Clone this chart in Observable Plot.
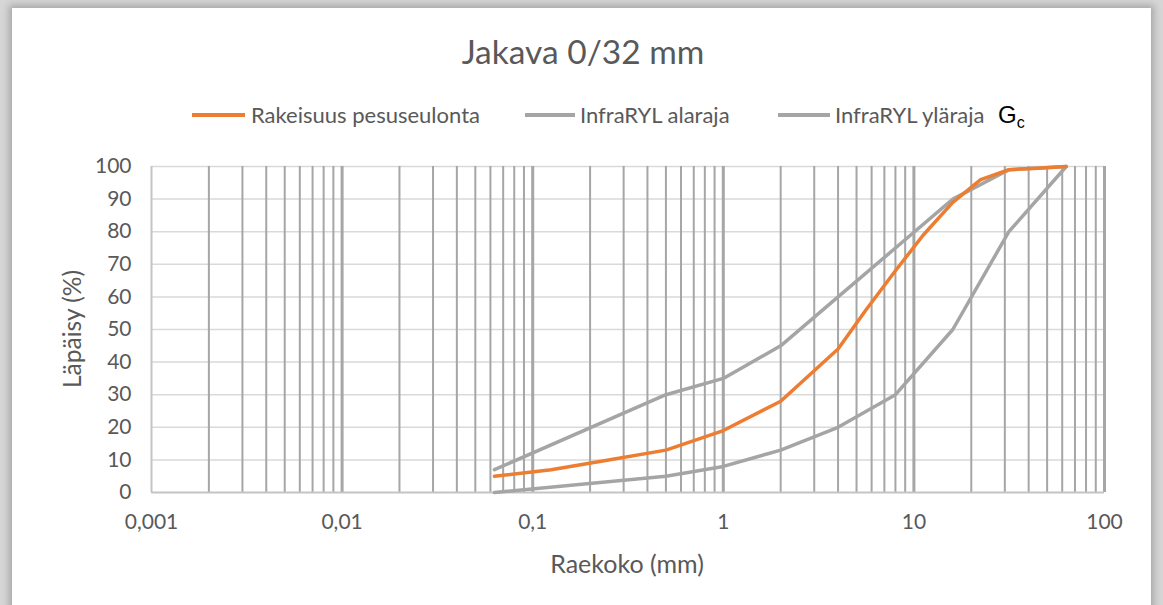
<!DOCTYPE html>
<html><head><meta charset="utf-8">
<script src="https://cdn.jsdelivr.net/npm/d3@7"></script>
<script src="https://cdn.jsdelivr.net/npm/@observablehq/plot@0.6"></script>
<style>
html,body{margin:0;padding:0;width:1163px;height:605px;overflow:hidden;background:#d6d6d6;font-family:Lato,"Open Sans",sans-serif;}
#card{position:absolute;left:12px;top:8px;width:1139px;height:650px;background:#fff;box-shadow:0 0 7px 3px rgba(0,0,0,0.22);}
#chart{position:absolute;left:0;top:0;}
.t{position:absolute;color:#595959;white-space:nowrap;line-height:1;}
.sw{position:absolute;height:4px;}
</style></head>
<body>
<div id="card"></div>
<div id="chart"></div>
<div class="t" id="title" style="left:0;width:1166px;text-align:center;top:35px;font-size:33.5px;">Jakava 0/32 mm</div>
<div class="sw" style="left:192px;width:53px;top:113px;background:#ED7D31"></div>
<div class="t" style="left:251px;top:104px;font-size:22px;">Rakeisuus pesuseulonta</div>
<div class="sw" style="left:525px;width:50px;top:113px;background:#A5A5A5"></div>
<div class="t" style="left:580px;top:104px;font-size:22px;">InfraRYL alaraja</div>
<div class="sw" style="left:778px;width:52px;top:113px;background:#A5A5A5"></div>
<div class="t" style="left:835px;top:104px;font-size:22px;">InfraRYL yläraja</div>
<div class="t" style="left:998px;top:103px;font-size:24px;color:#000;font-family:'Liberation Sans',Arial,sans-serif;">G<span style="font-size:16px;position:relative;top:5px;">c</span></div>
<div class="t" style="left:72px;top:329px;font-size:24.5px;transform:translate(-50%,-50%) rotate(-90deg);">Läpäisy (%)</div>
<div class="t" style="left:627px;top:563px;font-size:25px;transform:translate(-50%,-50%);">Raekoko (mm)</div>
<script>
// Sieve sizes (mm)
const sieveSizes = [0.063, 0.125, 0.25, 0.5, 1, 2, 4, 5.6, 8, 11.2, 16, 22.4, 31.5, 45, 63];
const washSieving = [5, 7, 10, 13, 19, 28, 44, 56, 68, 79, 89, 96, 99, 99.5, 100];
const limitSizes = [0.063, 0.5, 1, 2, 4, 8, 16, 31.5, 63];
const lowerLimit = [0, 5, 8, 13, 20, 30, 50, 80, 100];
const upperLimit = [7, 30, 35, 45, 60, 75, 90, 99, 100];
const xTicks = [0.001, 0.01, 0.1, 1, 10, 100];
const yTicks = [0, 10, 20, 30, 40, 50, 60, 70, 80, 90, 100];

const minorTicks = [];
for (const dec of [0.001, 0.01, 0.1, 1, 10]) for (let k = 2; k <= 9; k++) minorTicks.push(+(k * dec).toPrecision(3));

const orange = sieveSizes.map((s, i) => ({size: s, pass: washSieving[i]}));
const lower = limitSizes.map((s, i) => ({size: s, pass: lowerLimit[i]}));
const upper = limitSizes.map((s, i) => ({size: s, pass: upperLimit[i]}));

const chart = Plot.plot({
  width: 1163, height: 605,
  marginLeft: 151, marginRight: 59, marginTop: 166, marginBottom: 113,
  style: {background: "transparent", fontFamily: "Lato, 'Open Sans', sans-serif", fontSize: "21px", color: "#595959", overflow: "visible"},
  x: {type: "log", domain: [0.001, 100], ticks: xTicks, tickFormat: d => String(d).replace(".", ","), tickSize: 0, tickPadding: 22, label: null},
  y: {domain: [0, 100], ticks: yTicks, tickSize: 0, tickPadding: 20, label: null},
  marks: [
    Plot.ruleY(yTicks.slice(1), {stroke: "#d9d9d9", strokeWidth: 1.5}),
    Plot.ruleX(minorTicks, {stroke: "#a6a6a6", strokeWidth: 2}),
    Plot.ruleX(xTicks.slice(1), {stroke: "#a6a6a6", strokeWidth: 3}),
    Plot.ruleX([0.001], {stroke: "#c4c4c4", strokeWidth: 2}),
    Plot.ruleY([0], {stroke: "#c4c4c4", strokeWidth: 2}),
    Plot.line(lower, {x: "size", y: "pass", stroke: "#A5A5A5", strokeWidth: 3.5}),
    Plot.line(upper, {x: "size", y: "pass", stroke: "#A5A5A5", strokeWidth: 3.5}),
    Plot.line(orange, {x: "size", y: "pass", stroke: "#ED7D31", strokeWidth: 3.5})
  ]
});
document.getElementById("chart").appendChild(chart);
</script>
</body></html>
